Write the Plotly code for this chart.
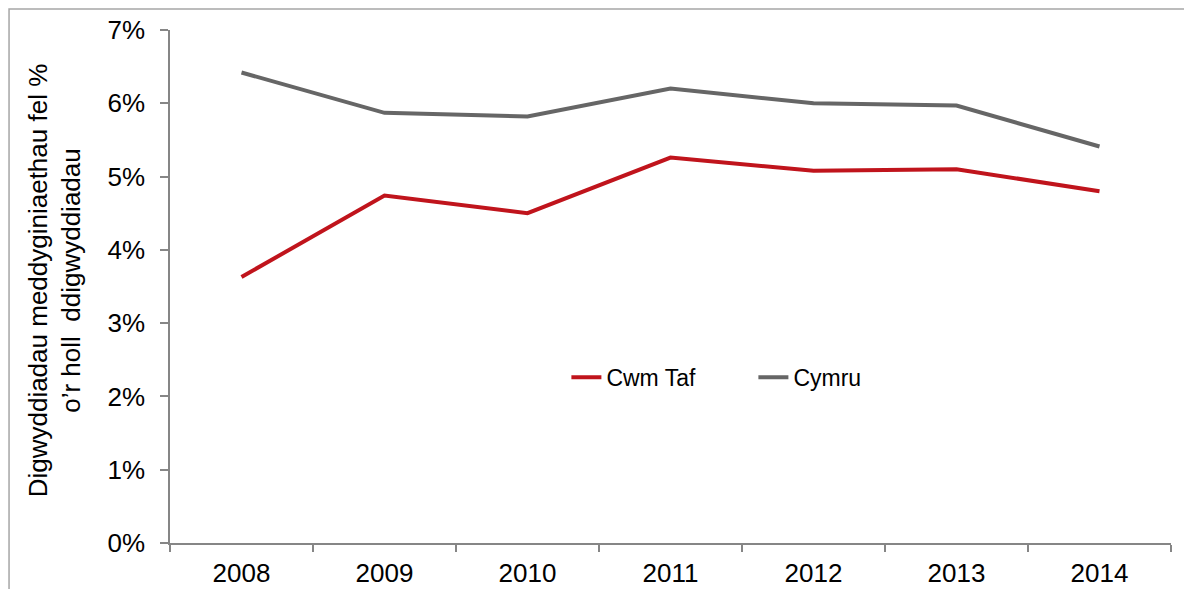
import plotly.graph_objects as go

years = ["2008", "2009", "2010", "2011", "2012", "2013", "2014"]
cwm_taf = [0.0363, 0.0474, 0.0450, 0.0526, 0.0508, 0.0510, 0.0480]
cymru = [0.0642, 0.0587, 0.0582, 0.0620, 0.0600, 0.0597, 0.0541]
y_ticks = [0, 0.01, 0.02, 0.03, 0.04, 0.05, 0.06, 0.07]
y_title = "Digwyddiadau meddyginiaethau fel %<br>o\u2019r holl \u00a0ddigwyddiadau"

FONT = "Liberation Sans, Arial, sans-serif"
AXIS = "#868686"

fig = go.Figure()
fig.add_trace(go.Scatter(x=years, y=cwm_taf, name="Cwm Taf", mode="lines",
                         line=dict(color="#C0141C", width=4)))
fig.add_trace(go.Scatter(x=years, y=cymru, name="Cymru", mode="lines",
                         line=dict(color="#666666", width=4)))

fig.update_layout(
    width=1184, height=589,
    margin=dict(l=170, r=13, t=30, b=46),
    paper_bgcolor="white", plot_bgcolor="white",
    font=dict(family=FONT, size=26, color="black"),
    showlegend=True,
    legend=dict(orientation="h", x=0.396, xanchor="left", y=0.323, yanchor="middle",
                font=dict(size=23), entrywidth=142, bgcolor="rgba(0,0,0,0)"),
    xaxis=dict(type="category", range=[-0.5, 6.5], automargin=False,
               showline=True, linecolor=AXIS, linewidth=1.5,
               ticks="outside", tickson="boundaries", ticklen=7, tickcolor=AXIS,
               tickwidth=1.5, showgrid=False, zeroline=False,
               tickfont=dict(size=26), ticklabelstandoff=6),
    yaxis=dict(range=[0, 0.07], tickvals=y_ticks, tickformat=".0%", automargin=False,
               showline=True, linecolor=AXIS, linewidth=1.5, ticks="outside",
               ticklen=8, tickcolor=AXIS, tickwidth=1.5, showgrid=False,
               zeroline=False, tickfont=dict(size=26), ticklabelstandoff=10),
    annotations=[dict(text=y_title, xref="paper", yref="paper",
                      x=-0.1149, y=0.512, xanchor="center", yanchor="middle",
                      textangle=-90, showarrow=False,
                      font=dict(size=26, family=FONT))],
    shapes=[dict(type="rect", xref="paper", yref="paper",
                 x0=-0.1608, x1=1.05, y0=-0.3, y1=1.0409,
                 line=dict(color="#A6A6A6", width=1.5), fillcolor="rgba(0,0,0,0)")],
)

fig.write_html("out.html")
